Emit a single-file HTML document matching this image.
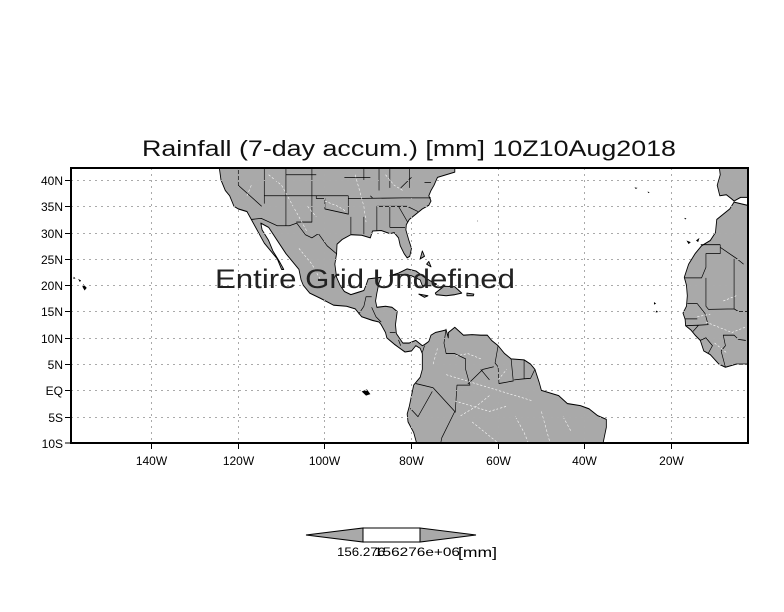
<!DOCTYPE html>
<html><head><meta charset="utf-8"><style>
html,body{margin:0;padding:0;background:#fff;}
svg{display:block;}
text{font-family:"Liberation Sans",sans-serif;fill:#000;}
</style></head><body>
<svg width="784" height="612" viewBox="0 0 784 612" xmlns="http://www.w3.org/2000/svg">
<rect width="784" height="612" fill="#fff"/>
<text x="409" y="156" font-size="22" text-anchor="middle" textLength="534" lengthAdjust="spacingAndGlyphs" style="fill:#111">Rainfall (7-day accum.) [mm] 10Z10Aug2018</text>
<defs><clipPath id="c"><rect x="71" y="168" width="677" height="275"/></clipPath></defs>
<g clip-path="url(#c)">
<g transform="matrix(4.33,0,0,-5.26,757.9,390.4)" stroke-linejoin="round">
<path fill="#a9a9a9" stroke="#000" stroke-width="0.2" d="M-124.5,43 L-124,40 -123,38 -122,37 -121,35 -120,34.5 -118,34 -117,32.5 -116,31 -115,29.5 -114,28 -112.5,26.5 -111,25 -110,23 -109.5,23 -110.5,24.5 -112,26.5 -113,28.5 -114.5,30.5 -114.8,31.8 -113,31 -111,28.5 -109,26 -108,25 -106,23 -105.5,21 -105,20 -103.5,18.5 -101,17.5 -98,16.2 -95,16 -93,15.5 -91.5,14 -89,13.3 -87.5,13 -87,12.5 -86,11 -85.7,10 -85,9.5 -84,8.8 -83,8.2 -81.5,7.3 -80,7.5 -79,8.5 -78,8 -77.5,7 -77.5,4 -78,2.5 -79.5,1 -80,-1 -80.5,-3 -81,-4.5 -80.8,-6 -79.5,-8 -78.5,-11 L-36,-11 -35.5,-9 -35,-7 -35,-5.5 -37,-4.8 -39,-3.5 -41,-2.9 -44,-2.5 -46,-1 -48,-0.5 -50,0 -50.5,1.5 -51.5,4 -52.5,5 -54,5.8 -57,6 -58.5,7 -60,8.5 -61.5,9.5 -62.5,10.5 -64,10.5 -66,10.6 -68,10.5 -70,12 -71.5,11 -71.5,10 -72,11.5 -73,11.3 -74.5,11 -75.5,10.5 -76,9.3 -77,8.7 -77.5,8.5 -79,9.5 -80.5,9 -82,9 -83.5,10.8 -83.7,12.5 -83.3,15 -84.5,15.8 -86,16 -88,15.8 -88.3,17 -88,18.5 -87.5,20.5 -87,21.5 -90,21.2 -90.5,20 -91,19 -92.5,18.6 -94,18.2 -95.5,18.8 -96.5,20 -97.3,21.5 -97.7,24 -97.3,26 -97.2,27.8 -96,28.7 -94,29.6 -91.5,29.5 -89.5,29 -89,30.3 -87,30.4 -85,29.8 -84,30 -83,29 -82.6,27.5 -81.7,26 -81,25.2 -80.4,25.5 -80,27 -80.6,28.5 -81.3,30.5 -81.2,31.5 -80.5,32.5 -79,33.5 -77.5,34.5 -76,35.2 -75.5,36 -76,37 -75.5,38 -74.8,39 -74,40.5 -72,41 -70,41.5 -70,43 Z"/>
<path fill="#a9a9a9" stroke="#000" stroke-width="0.2" d="M-85,21.8 L-83,22.3 -81,23.1 -79,22.7 -77,21.5 -75,20.5 -74.2,20.2 -75.5,19.9 -77.5,19.9 -78,21 -80,21.8 -82,22 -84,21.9Z M-74.5,18.5 L-72.5,19.8 -70,19.7 -68.4,18.5 -70,18.2 -72,18 -74.3,18.2Z M-78.3,18.3 L-76.2,18 -77,17.7Z M-67.2,18.5 L-65.6,18.3 -65.7,18 -67.2,18Z M-78,25 L-77.5,26.5 -77,25.5Z M-76,24.5 L-75.5,23.5 -76.5,24Z"/>
<path fill="#a9a9a9" stroke="#000" stroke-width="0.2" d="M-9,43 L-8.7,41 -9.4,39 -8.8,37 -7.3,37.2 -6.2,36.5 -5.5,36 -4,36.7 0,36.7 0,43Z M0,35.1 L-2,35.1 -5.5,35.8 -6.5,34.5 -8,33.5 -9.5,32.5 -9.8,30 -11,28.5 -13,27.5 -14.5,26 -16,24 -17,21.5 -16.5,20 -16.3,18 -16.5,16 -17.3,14.7 -16.8,13.5 -16.7,12.3 -15.5,11.5 -14.5,10.5 -13.3,9.5 -12.5,7.5 -11,6.8 -9,5 -7.5,4.4 -5,5 0,5Z"/>
<g fill="#000">
<path d="M-155.8,20.2 L-155,19.5 -155.5,19 -156,19.7Z M-157,21.2 L-156.3,20.9 -156.6,20.6Z M-158,21.6 L-157.6,21.3 -158.1,21.2Z"/>
<path d="M-91.5,-0.2 L-90.3,0.2 -89.5,-0.7 -90.5,-1Z"/>
<path d="M-16.5,28.5 L-15.5,28.2 -16,27.8Z M-14.3,28.5 L-13.5,29 -13.8,28.2Z M-24,16.8 L-23.5,16.5 -24,16.3Z M-23.5,15.2 L-23,14.9 -23.6,14.8Z M-17,32.8 L-16.5,32.7 -16.8,32.5Z M-25.5,37.8 L-25,37.7 -25.3,37.5Z M-28.5,38.6 L-27.8,38.5 -28.2,38.3Z M-64.8,32.3 L-64.6,32.2 -64.8,32.1Z"/>
</g>
<g fill="none" stroke="#000" stroke-width="0.15">
<path d="M-117,32.5 L-114.7,32.7 -111,31.3 -108.2,31.3 -106.5,31.8 -104.5,29.6 -103,29 -101.5,29.8 -99.5,27.5 -97.2,25.9"/>
<path d="M-120,43 V39 L-114.6,35 M-114,43 V35.5 M-109,43 V31.3 M-103,43 V32 H-106.6 M-114,37 H-94.6 M-109,41 H-102 M-102,37 V36.5 H-100 V34.5 L-94.5,33.5 M-94.6,37 V33.5 M-94,33 V29.7 M-91,33 V29.7 M-94.6,36.5 H-89.5 M-88,35 V30.3 M-85,35 L-85,31 M-91,36.5 L-82,36.6 -75.5,36.6 M-88,35 H-81 L-78.5,34 M-83,35 L-80.9,32 M-85,31 H-81.5 M-89.5,37 L-89,36.6 M-82.5,38.5 L-80,40.5 M-95.5,40.5 H-89.5 M-91,40 V43 M-87.5,38 V43 M-85,38.5 V43 M-80.5,38.5 V43 M-77,39.5 H-75.5"/>
<path d="M-92.2,14.5 L-91,16 -90.5,17.8 -89.2,17.8 M-89.2,15.8 L-88.2,14 -87,13 M-85,11 L-83.7,11 M-83,9.6 L-82.5,8.5 M-77.5,7.2 L-77,8.5"/>
<path d="M-72,11.7 L-72.5,9 -72,7 -70,7 -67.5,6 -67.5,4 -66.5,1 -69.5,1 -69.9,-4.2 M-75,0.5 L-79,1.3 M-75,0.5 L-70,-4 -73,-9 -73.5,-11 M-80.3,-3.4 L-78.5,-5 -75.2,-0.2 M-69.5,-11 L-66,-10 -65.5,-11 M-60,8.5 L-60.7,5.2 -60,4.5 -59.8,1.3 -56.5,1.8 -57,6 M-54,5.8 L-54,2.2 -56.3,2 M-51.5,4 L-52.5,2.3 -54,2.2 M-67,1.2 L-63.5,4 -61,4.5 M-64,4 L-62,2"/>
<path d="M-8.7,27.7 L-13.2,27.7 M-8.7,27.7 L-8.7,26 -12,26 -12,23.4 -13,21.4 -17,21.4 M-8.7,27.2 L-4.8,25 -3.3,24 M-12,21.4 L-12,16 -11.4,15.4 -5.5,15.5 -5.5,25 M-16.3,16.5 L-14,16.5 -12.2,14.6 -11.5,12.5 -13.7,12.4 -16.7,12.3 M-16.8,13.6 H-14 M-15,11.2 L-13.7,12.4 M-13.3,9.5 L-12,10 -11,9 -10.5,8.5 -11.5,7 M-8.5,7.5 L-7.5,8.5 -8,10.5 -5.5,10.5 -4.5,9.7 -2.8,9.5 M-8.5,7.5 L-7.5,4.4 M-5.5,15.5 L-4.5,15 -2,15"/>
</g>
<g fill="none" stroke="#fff" stroke-width="0.12" stroke-dasharray="0.5 0.4">
<path d="M-113,41 L-110,39 -108,36 -106,33 -104,30 M-100,36 L-97,35 -95,34 M-93,41 L-92,38 -91,35 -90.5,32 M-106,27 L-103,24 -101,21 M-104,35 L-102,33 M-117,39 L-118,37 M-86,41 L-84,39 -82,38"/>
<path d="M-72,3 L-68,2 -64,1 -60,0 -56,-1 -52,-2 M-70,-2 L-66,-3 -62,-4 -58,-3 M-66,-6 L-63,-8 -60,-10 M-56,-5 L-54,-8 -53,-10 M-50,-4 L-49,-7 -48,-10 M-45,-5 L-43,-8 M-64,6 L-67,7 -70,6.5 M-75,5 L-74,8 M-62,-1 L-65,-3 -69,-5 M-60,2 L-58,4"/>
<path d="M-12,13 L-9,12 -6,11 -3,12 M-14,14 L-11,14.5 M-8,17 L-5,18 M-10,9 L-7,7"/>
</g>
</g>
</g>
<g stroke="#aaa" stroke-width="1" stroke-dasharray="2 4" fill="none">
<path d="M71,180.5H748 M71,206.5H748 M71,233.5H748 M71,259.5H748 M71,285.5H748 M71,311.5H748 M71,338.5H748 M71,364.5H748 M71,390.5H748 M71,417.5H748"/>
<path d="M151.5,168V443 M238.5,168V443 M324.5,168V443 M411.5,168V443 M498.5,168V443 M584.5,168V443 M671.5,168V443"/>
</g>
<text x="365" y="288" font-size="27" text-anchor="middle" textLength="300" lengthAdjust="spacingAndGlyphs" style="fill:#222">Entire Grid Undefined</text>
<rect x="71" y="168" width="677" height="275" fill="none" stroke="#000" stroke-width="2"/>
<g stroke="#000" stroke-width="1">
<path d="M65,180.5H71 M65,206.5H71 M65,233.5H71 M65,259.5H71 M65,285.5H71 M65,311.5H71 M65,338.5H71 M65,364.5H71 M65,390.5H71 M65,417.5H71 M65,443H71"/>
<path d="M151.5,443V449 M238.5,443V449 M324.5,443V449 M411.5,443V449 M498.5,443V449 M584.5,443V449 M671.5,443V449"/>
</g>
<g font-size="12" text-anchor="end">
<text x="63" y="185">40N</text><text x="63" y="211">35N</text><text x="63" y="238">30N</text><text x="63" y="264">25N</text><text x="63" y="290">20N</text><text x="63" y="316">15N</text><text x="63" y="343">10N</text><text x="63" y="369">5N</text><text x="63" y="395">EQ</text><text x="63" y="422">5S</text><text x="63" y="448">10S</text>
</g>
<g font-size="12" text-anchor="middle">
<text x="151.5" y="465">140W</text><text x="238.5" y="465">120W</text><text x="324.5" y="465">100W</text><text x="411.5" y="465">80W</text><text x="498.5" y="465">60W</text><text x="584.5" y="465">40W</text><text x="671.5" y="465">20W</text>
</g>
<g stroke="#000" stroke-width="1">
<polygon points="306,535 363,528 363,542" fill="#a9a9a9"/>
<rect x="363" y="528" width="57" height="14" fill="#fff"/>
<polygon points="420,528 476,535 420,542" fill="#a9a9a9"/>
</g>
<g font-size="12">
<text x="337" y="556" textLength="48" lengthAdjust="spacingAndGlyphs">156.276</text>
<text x="374" y="556" textLength="86" lengthAdjust="spacingAndGlyphs">156276e+06</text>
<text x="458" y="557" font-size="14" textLength="39" lengthAdjust="spacingAndGlyphs">[mm]</text>
</g>
</svg>
</body></html>
